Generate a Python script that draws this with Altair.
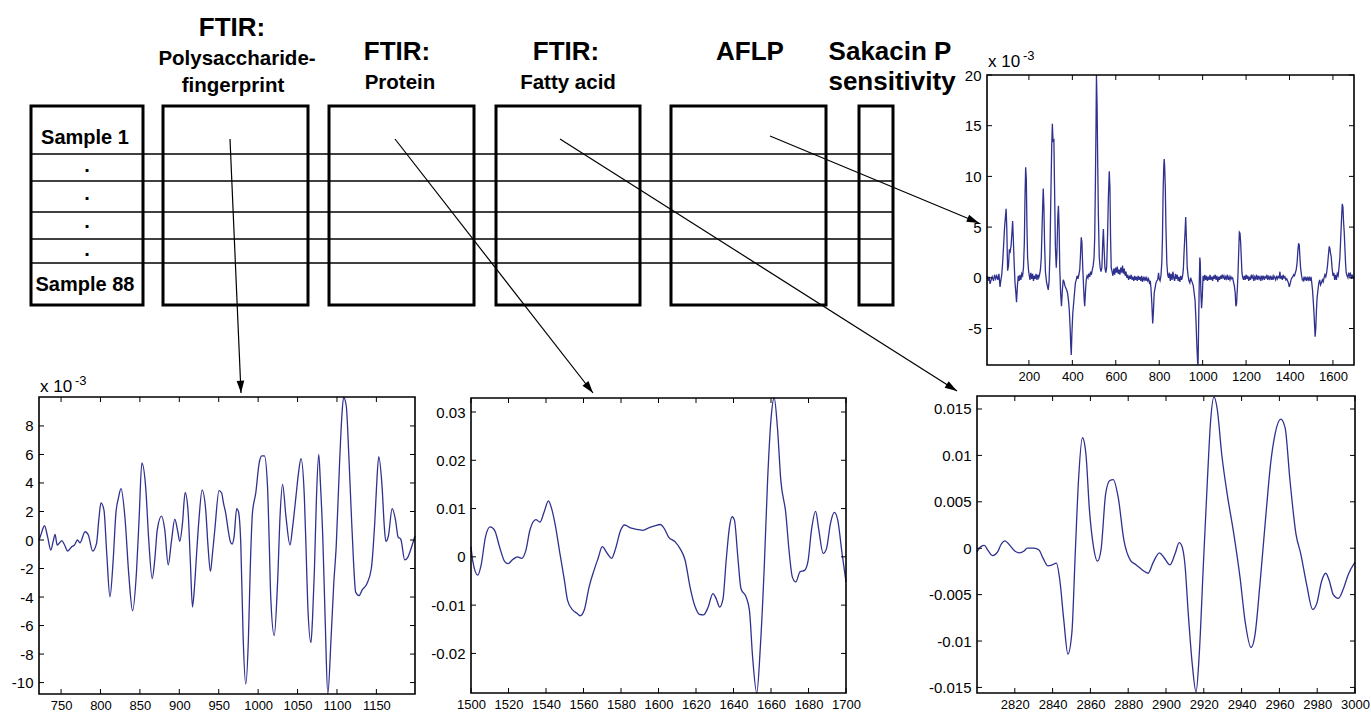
import math
import altair as alt
import pandas as pd

W, H = 1371, 712
FONT = "Liberation Sans"
LINE_COLOR = "#2f318e"

# ---------------- spectra / profiles ----------------
# FTIR polysaccharide fingerprint region (values in 1e-3)
poly_x = [722, 724, 729, 733, 737, 740, 742.4, 745, 748, 751, 754, 758.4, 763.5, 767, 770.7,
          774, 780.4, 784.6, 790, 795, 798, 800.6, 804.4, 808, 812, 816, 819.6, 823, 826, 831,
          836, 840.7, 845.8, 849, 852.5, 857.6, 861, 865.6, 869, 872, 877.4, 881.6, 885.9, 890,
          894.3, 897.7, 900.6, 904, 907.4, 911, 914, 916.7, 919, 921.7, 925, 928.9, 933.5, 936.5,
          939.5, 942, 945, 950.4, 953.7, 956, 958.8, 962, 965, 967, 969.4, 972.8, 975, 978, 981,
          984.3, 987.7, 990, 992.8, 997, 1001.3, 1004.7, 1008, 1011.9, 1014, 1016, 1020.4, 1024.6,
          1028, 1031, 1035.3, 1040.4, 1043.8, 1048, 1051, 1054.4, 1058.6, 1061, 1062.9, 1067,
          1069, 1071.4, 1074, 1076.9, 1079, 1082, 1085, 1088.4, 1092.6, 1096, 1099, 1103.3, 1106,
          1108.4, 1111.8, 1115, 1118, 1121, 1123.7, 1127.9, 1132, 1138, 1143.6, 1146, 1147.9,
          1150, 1153, 1157.2, 1160, 1162, 1165.3, 1170, 1174.3, 1177.6, 1181, 1186, 1190, 1193.4,
          1199]
poly_y = [0.0, 0.3, 1.0, 0.2, -0.7, -0.1, 0.4, -0.35, -0.2, -0.05, -0.3, -0.77, -0.47, -0.35, 0.0,
          -0.2, 0.58, 0.35, -0.77, -0.23, 1.5, 2.6, 2.1, -1.0, -3.98, -1.5, 1.9, 3.0, 3.6, 1.6,
          -2.5, -4.96, -2.1, 1.5, 5.4, 3.5, 0.2, -2.7, -1.3, 0.7, 1.68, 0.7, -1.75, -0.1,
          1.47, 0.7, -0.1, 1.17, 3.32, 2.1, -1.5, -4.7, -3.5, -1.17, 1.5, 3.5, 2.1, -0.5,
          -2.2, -1.0, 0.7, 3.46, 3.3, 2.6, 1.9, 0.7, -0.16, -0.28, 0.2, 2.2, 2.0, -0.28, -6.85,
          -10.1, -6.85, -2.0, 1.9, 3.3, 5.4, 5.9, 5.9, 3.75, 0.0, -4.0, -6.7, -3.06,
          1.9, 3.9, 1.64, -0.35, 0.94, 3.06, 4.6, 5.7, 3.06, -1.0, -4.47, -7.2,
          -5.5, -2.1, 3.0, 6.0, 4.0, 0.2, -5.5, -10.8, -6.8, -3.0, -0.5, 5.4, 8.5,
          10.0, 9.4, 6.0, 2.1, -1.5, -3.65, -3.9, -3.5, -3.06, -2.0, -0.5, 1.17,
          3.5, 5.84, 3.76, 1.0, -0.1, 0.3, 2.2, 1.4, 0.2, 0.05, -1.4, -1.2, -0.7,
          0.3]

# FTIR protein region
prot_x = [1500, 1501, 1503.6, 1505.4, 1507.7, 1510.2, 1512.6, 1515.2, 1518, 1519.7, 1522.4, 1524.8,
          1527, 1529.3, 1531.4, 1534.6, 1536.8, 1539, 1541.3, 1543, 1544.8, 1547.5, 1549.8, 1551.5,
          1554.2, 1556.5, 1558.2, 1560.4, 1563, 1565.6, 1567.8, 1570, 1572.7, 1575, 1577.1, 1579.8,
          1581.9, 1585, 1588.6, 1591.8, 1594.8, 1598, 1601, 1603, 1605.4, 1608.9, 1611.5, 1614.2,
          1616.8, 1619.5, 1621.8, 1624, 1626.4, 1629, 1630.8, 1632.6, 1634.4, 1636.1, 1637.9,
          1639.3, 1640.5, 1642.3, 1644, 1646.7, 1648.5, 1650.2, 1652.4, 1654.3, 1656.4, 1658.2,
          1660, 1661.7, 1663.5, 1665.2, 1667.9, 1669.6, 1671.4, 1673.2, 1675.5, 1677.9, 1679.7,
          1681.6, 1683.8, 1685.5, 1687.8, 1689.6, 1691.7, 1693.8, 1695.6, 1697.9, 1700]
prot_y = [0.0021, -0.001, -0.0038, -0.0017, 0.0041, 0.0062, 0.0055, 0.0021, -0.001, -0.0014, -0.0005, 0.0,
          -0.0003, 0.0014, 0.0055, 0.0077, 0.0072, 0.0093, 0.0116, 0.0100, 0.0069, 0.0005, -0.0048, -0.009,
          -0.011, -0.0117, -0.0122, -0.011, -0.0062, -0.0028, -0.0003, 0.0021, 0.0007, -0.0003, 0.0017, 0.0055,
          0.0066, 0.006, 0.0057, 0.0055, 0.006, 0.0064, 0.0067, 0.0059, 0.0041, 0.0031, 0.0017, -0.0007,
          -0.0062, -0.0103, -0.0119, -0.012, -0.0105, -0.0076, -0.0087, -0.0104, -0.0087, -0.0007, 0.0063,
          0.0083, 0.0076, 0.0, -0.0066, -0.0083, -0.0111, -0.0208, -0.0282, -0.0188, -0.0021, 0.016,
          0.0285, 0.0329, 0.0264, 0.016, 0.009, 0.0014, -0.0042, -0.0052, -0.0031, -0.0028, -0.001,
          0.0056, 0.0094, 0.0056, 0.0007, 0.0017, 0.0069, 0.0092, 0.0076, 0.0007, -0.0052]

# FTIR fatty acid region
fat_x = [2800, 2802.2, 2803.9, 2805.7, 2808.3, 2810.9, 2812.7, 2814.8, 2817, 2820, 2822.6, 2824.9,
         2826.6, 2830.1, 2832.8, 2835, 2837.5, 2839.8, 2842, 2843.8, 2845.9, 2848.1, 2850.2, 2852,
         2853.7, 2855.8, 2857.6, 2859.5, 2861.6, 2863.7, 2865.6, 2868.1, 2870.3, 2872.1, 2874.7,
         2877.7, 2881.2, 2884.3, 2887.8, 2890.5, 2893.3, 2896.5, 2898.9, 2902.1, 2904.8, 2907,
         2908.3, 2910, 2911.8, 2913.9, 2915.9, 2917.6, 2919.7, 2921.9, 2923.6, 2925.4, 2927.1,
         2929.5, 2932.4, 2935.6, 2939.2, 2941.8, 2945, 2947.1, 2949.7, 2952.9, 2955.4, 2957.7,
         2960.7, 2963, 2965.6, 2968.8, 2971.3, 2974.4, 2977.6, 2979.7, 2982.4, 2984.5, 2986.4,
         2988.5, 2991.2, 2993.8, 2996.5, 3000]
fat_y = [-0.0004, 0.0002, 0.0003, -0.0002, -0.0008, -0.0004, 0.0004, 0.0008, 0.0004, -0.0003, -0.0005, -0.0003,
         0.0, 0.0, -0.0002, -0.0011, -0.0019, -0.0018, -0.0016, -0.0034, -0.0077, -0.0114, -0.0091, -0.0005,
         0.0073, 0.0119, 0.0102, 0.0041, 0.0002, -0.0014, -0.0002, 0.0059, 0.0073, 0.0074, 0.0055,
         0.0009, -0.0013, -0.0018, -0.0024, -0.0027, -0.0015, -0.0005, -0.001, -0.0018, -0.0006, 0.0006,
         0.0003, -0.0017, -0.0071, -0.0125, -0.0155, -0.0114, -0.0021, 0.0073, 0.0137, 0.0163, 0.015,
         0.0101, 0.0058, 0.0019, -0.0032, -0.0078, -0.0107, -0.0093, -0.0039, 0.0037, 0.0092, 0.0123,
         0.0139, 0.013, 0.0073, 0.0015, -0.0006, -0.0039, -0.0066, -0.006, -0.0035, -0.0027, -0.0035,
         -0.005, -0.0054, -0.0044, -0.0028, -0.0015]

# AFLP band profile (values in 1e-3)
aflp_x = [7, 12, 17, 21, 26, 31, 37, 42, 47, 52, 57, 62, 67, 71, 75, 79, 83, 88, 95, 98, 102, 106, 110,
          114, 118, 122, 125, 128, 132, 136, 140, 143, 147, 151, 155, 159, 163, 167, 171, 175, 179, 182,
          185, 188, 191, 194, 198, 201, 205, 209, 213, 217, 221, 225, 229, 233, 237, 241, 245, 249, 253,
          257, 260, 264, 266, 269, 272, 276, 281, 285, 289, 293, 297, 301, 305, 308, 311, 315, 318, 322,
          326, 329, 333, 336, 339, 342, 346, 350, 354, 358, 362, 366, 370, 374, 378, 382, 386, 390, 393,
          395, 398, 402, 406, 410, 414, 418, 422, 426, 430, 434, 437, 441, 444, 448, 452, 455, 457, 460,
          464, 468, 472, 476, 480, 484, 488, 492, 496, 500, 503, 506, 509, 511, 514, 517, 520, 524, 528,
          532, 536, 540, 543, 546, 550, 554, 558, 562, 566, 570, 573, 576, 579, 583, 587, 591, 595, 599,
          603, 607, 611, 615, 619, 623, 627, 631, 635, 639, 643, 647, 651, 655, 659, 663, 667, 671, 675,
          679, 683, 687, 691, 695, 699, 703, 707, 711, 715, 719, 723, 727, 731, 735, 739, 743, 747, 751,
          755, 759, 762, 766, 770, 773, 777, 781, 785, 789, 793, 797, 800, 804, 808, 812, 815, 818, 821,
          823, 825, 828, 831, 835, 839, 843, 847, 851, 855, 859, 863, 867, 871, 875, 879, 883, 887, 891,
          895, 899, 903, 907, 911, 915, 919, 922, 925, 929, 933, 937, 941, 945, 949, 953, 957, 961, 965,
          969, 973, 977, 979, 981, 984, 987, 989, 992, 995, 998, 1002, 1006, 1010, 1014, 1018, 1022,
          1026, 1030, 1034, 1038, 1042, 1046, 1050, 1054, 1058, 1062, 1066, 1070, 1074, 1078, 1082,
          1086, 1090, 1094, 1098, 1102, 1106, 1110, 1114, 1118, 1122, 1126, 1130, 1134, 1138, 1142,
          1146, 1150, 1153, 1156, 1160, 1163, 1166, 1169, 1172, 1175, 1178, 1181, 1184, 1188, 1192,
          1196, 1200, 1204, 1208, 1212, 1216, 1220, 1224, 1228, 1232, 1236, 1240, 1244, 1248, 1252,
          1256, 1260, 1264, 1268, 1272, 1276, 1280, 1284, 1288, 1292, 1296, 1300, 1304, 1308, 1312,
          1316, 1320, 1324, 1328, 1332, 1336, 1340, 1344, 1348, 1352, 1356, 1359, 1363, 1367, 1371,
          1375, 1379, 1383, 1387, 1391, 1395, 1399, 1403, 1407, 1411, 1415, 1419, 1423, 1427, 1431,
          1435, 1439, 1442, 1445, 1448, 1451, 1455, 1459, 1463, 1467, 1471, 1475, 1479, 1483, 1487,
          1491, 1495, 1499, 1502, 1506, 1510, 1514, 1518, 1521, 1524, 1527, 1531, 1535, 1539, 1543,
          1547, 1551, 1555, 1559, 1563, 1567, 1571, 1575, 1579, 1583, 1586, 1589, 1592, 1596, 1600,
          1604, 1608, 1612, 1616, 1620, 1624, 1628, 1632, 1636, 1640, 1643, 1646, 1649, 1652, 1655,
          1658, 1661, 1665, 1669, 1673, 1677, 1681, 1685, 1689, 1693, 1697]
aflp_y = [0.2, -0.3, 0.1, -0.6, -0.2, 0.1, -0.3, 0.3, -0.1, 0.2, -0.2, 0.4, -0.9, -0.2, 0.3, 1.5, 3.0, 5.0,
          6.8, 5.0, 0.7, 1.2, 2.8, 2.6, 3.2, 4.5, 5.6, 4.0, 1.5, -0.5, -1.5, -2.4, -0.8, 0.2, -0.3, 0.3,
          -0.2, 0.4, 0.2, 1.0, 3.5, 8.0, 10.9, 9.8, 5.0, 2.0, 0.8, 0.3, -0.2, 0.5, -0.1, 0.4, -0.3, 0.2,
          -0.1, 0.4, -0.2, 0.3, 0.0, 0.3, 0.8, 2.0, 4.5, 7.5, 8.8, 7.0, 3.5, 0.6, -0.4, -0.8, -1.2, -0.3,
          2.5, 8.0, 13.0, 15.2, 13.5, 13.6, 9.0, 3.0, 1.0, 2.5, 6.0, 7.1, 5.0, 1.0, -1.5, -2.8, -1.2,
          -0.2, -0.4, -0.8, -1.0, -1.2, -1.5, -2.2, -3.2, -5.0, -6.8, -7.6, -5.5, -3.5, -2.5, -1.5, -0.5,
          -0.2, 0.2, -0.1, 0.3, 0.8, 2.0, 4.0, 3.5, 1.0, -1.0, -2.3, -2.8, -1.5, -0.2, 0.2, 0.0, 0.4, 0.1,
          0.6, 0.3, 0.8, 1.2, 2.0, 4.0, 9.0, 15.0, 20.0, 17.0, 11.0, 6.0, 2.0, 1.0, 0.6, 1.0, 3.5, 4.8,
          3.0, 1.0, 0.5, 1.0, 4.0, 8.0, 10.5, 9.0, 4.0, 1.0, 0.6, 0.2, 0.9, 0.3, 1.0, 0.5, 1.1, 0.4, 0.8,
          0.3, 1.0, 0.5, 1.2, 0.4, 0.9, 0.2, 0.6, 0.0, 0.3, -0.2, 0.2, -0.1, 0.3, -0.2, 0.1, -0.3, 0.2,
          -0.2, 0.1, -0.3, 0.2, -0.2, 0.1, -0.3, 0.2, -0.4, 0.0, -0.2, 0.1, -0.3, 0.0, -0.3, -0.1, -0.5,
          -0.3, -1.0, -2.5, -4.5, -3.5, -1.5, -1.0, -0.5, -0.3, -0.2, 0.5, -0.1, -0.3, 0.2, 1.5, 4.0, 8.5,
          11.0, 11.7, 11.0, 9.0, 5.0, 1.5, 0.3, 0.0, 0.5, -0.3, 0.4, -0.2, 0.6, 0.0, -0.3, 0.4, -0.1, 0.3,
          -0.3, 0.1, -0.4, 0.2, -0.2, 0.1, 0.8, 2.8, 4.5, 6.0, 4.0, 1.0, 0.2, -0.3, -0.5, 0.0, -0.3, -0.5,
          -0.8, -1.5, -2.2, -4.0, -6.5, -8.4, -8.55, -5.5, -1.0, 2.0, 1.5, -1.5, -3.0, -2.0, 0.2, -0.3,
          0.3, -0.2, 0.2, -0.3, 0.1, -0.2, 0.3, -0.2, 0.1, -0.3, 0.2, -0.1, 0.3, -0.2, 0.2, -0.4, 0.1,
          -0.2, 0.2, -0.1, 0.3, 0.0, 0.2, -0.2, 0.1, -0.1, 0.3, -0.2, 0.1, -0.2, 0.1, -0.1, 0.0, -0.4,
          -0.8, -1.5, -2.8, -2.6, -1.0, 0.5, 2.5, 4.5, 4.4, 3.5, 2.0, 0.5, 0.1, -0.2, 0.2, -0.2, 0.3,
          -0.1, 0.2, -0.3, 0.1, -0.2, 0.3, 0.0, 0.2, -0.3, 0.1, -0.1, 0.3, -0.2, 0.2, -0.1, 0.1, -0.3,
          0.2, -0.1, 0.2, -0.2, 0.1, 0.0, 0.3, -0.2, 0.1, -0.1, 0.2, -0.2, 0.1, -0.2, 0.2, 0.0, -0.2, 0.2,
          -0.1, 0.1, 0.0, 0.6, -0.1, 0.2, -0.2, 0.3, 0.0, 0.1, -0.2, -0.1, -0.3, -0.5, -0.9, -0.6, -0.2,
          0.0, 0.1, 0.3, 0.2, 0.5, 0.8, 1.5, 2.8, 3.4, 3.2, 2.0, 1.0, 0.3, -0.2, -0.3, 0.1, -0.2, 0.0,
          -0.3, 0.1, -0.2, 0.0, -0.3, 0.1, -0.4, -1.2, -2.5, -4.0, -5.8, -5.0, -3.2, -2.0, -1.2, -0.5,
          -0.2, -0.7, -0.5, -0.2, -0.4, 0.0, 0.3, 0.1, 0.5, 1.2, 2.2, 3.1, 2.9, 2.4, 2.1, 1.0, 0.2, 0.5,
          -0.2, 0.3, -0.2, 0.4, 0.2, 1.0, 2.0, 4.0, 6.0, 7.3, 7.0, 5.5, 4.5, 3.0, 1.5, 0.5, 0.2, 0.0,
          0.5, 0.2, 0.4, -0.1, 0.3, 0.0, 0.1]

# axis tick values
poly_xticks = [750, 800, 850, 900, 950, 1000, 1050, 1100, 1150]
poly_yticks = [-10, -8, -6, -4, -2, 0, 2, 4, 6, 8]
prot_xticks = [1500, 1520, 1540, 1560, 1580, 1600, 1620, 1640, 1660, 1680, 1700]
prot_yticks = [-0.02, -0.01, 0, 0.01, 0.02, 0.03]
fat_xticks = [2820, 2840, 2860, 2880, 2900, 2920, 2940, 2960, 2980, 3000]
fat_yticks = [-0.015, -0.01, -0.005, 0, 0.005, 0.01, 0.015]
aflp_xticks = [200, 400, 600, 800, 1000, 1200, 1400, 1600]
aflp_yticks = [-5, 0, 5, 10, 15, 20]

# ---------------- diagram text ----------------
header_big = ["FTIR:", "FTIR:", "FTIR:", "AFLP", "Sakacin P", "sensitivity"]
header_sub = ["Polysaccharide-", "fingerprint", "Protein", "Fatty acid"]
sample_labels = ["Sample 1", ".", ".", ".", ".", "Sample 88"]

# ---------------- layout (pixels) ----------------
big_pos = [(232, 36), (397, 60), (566, 60), (750, 60), (890, 60), (892, 90)]
sub_pos = [(237, 65), (233, 92), (400, 89), (568, 89)]
sample_pos = [(85, 144), (87, 172), (87, 200), (87, 228), (87, 256), (85, 291)]
boxes = [(31, 143), (163, 308), (329, 474), (496, 640), (671, 826), (859, 893)]
box_top, box_bottom = 106, 305
row_lines = [154, 181, 212, 239, 263]
arrows = [((230, 139), (241, 393)), ((395, 139), (593, 393)),
          ((560, 139), (957, 391)), ((770, 136), (979, 223))]

CX = alt.Scale(domain=[0, W], range=[0, W], nice=False, zero=False)
CY = alt.Scale(domain=[0, H], range=[0, H], nice=False, zero=False)


def cx(f):
    return alt.X(f, type="quantitative", scale=CX, axis=None)


def cy(f):
    return alt.Y(f, type="quantitative", scale=CY, axis=None)


layers = []

box_df = pd.DataFrame({"x0": [b[0] for b in boxes], "x1": [b[1] for b in boxes],
                       "y0": box_top, "y1": box_bottom})
layers.append(alt.Chart(box_df).mark_rect(fillOpacity=0, stroke="black", strokeWidth=3,
                                          strokeJoin="miter").encode(
    x=cx("x0"), x2="x1", y=cy("y0"), y2="y1"))

row_df = pd.DataFrame({"x0": boxes[0][0], "x1": boxes[-1][1], "y": row_lines})
layers.append(alt.Chart(row_df).mark_rule(color="black", strokeWidth=1.3).encode(
    x=cx("x0"), x2="x1", y=cy("y")))

arr_df = pd.DataFrame({
    "x0": [a[0][0] for a in arrows], "y0": [a[0][1] for a in arrows],
    "x1": [a[1][0] for a in arrows], "y1": [a[1][1] for a in arrows],
})
arr_df["ang"] = [math.degrees(math.atan2(r.x1 - r.x0, -(r.y1 - r.y0))) % 360
                 for r in arr_df.itertuples()]
layers.append(alt.Chart(arr_df).mark_rule(color="black", strokeWidth=1.2).encode(
    x=cx("x0"), y=cy("y0"), x2="x1", y2="y1"))
layers.append(alt.Chart(arr_df).mark_point(
    shape="M0,0L-0.62,2L0.62,2Z", filled=True, size=150, color="black", opacity=1).encode(
    x=cx("x1"), y=cy("y1"), angle=alt.Angle("ang:Q", scale=None)))


def text_layer(labels, pos, size, weight, align="center"):
    df = pd.DataFrame({"t": labels, "x": [p[0] for p in pos], "y": [p[1] for p in pos]})
    return alt.Chart(df).mark_text(font=FONT, fontSize=size, fontWeight=weight, align=align,
                                   baseline="alphabetic", color="black").encode(
        x=cx("x"), y=cy("y"), text="t:N")


layers.append(text_layer(header_big, big_pos, 26, "bold"))
layers.append(text_layer(header_sub, sub_pos, 20.5, "bold"))
layers.append(text_layer(sample_labels, sample_pos, 20, "bold"))
# exponent annotations for the 1e-3 scaled axes
layers.append(text_layer(["x 10", "x 10"], [(40, 392), (988, 67)], 17, "normal", "left"))
layers.append(text_layer(["-3", "-3"], [(75, 385), (1023, 60)], 13, "normal", "left"))


def panel(xs, ys, xdom, ydom, box, xticks, yticks, interp):
    left, top, right, bottom = box
    sx = alt.Scale(domain=xdom, range=[left, right], nice=False, zero=False)
    sy = alt.Scale(domain=ydom, range=[bottom, top], nice=False, zero=False)
    out = []
    df = pd.DataFrame({"x": xs, "y": ys})
    out.append(alt.Chart(df).mark_line(color=LINE_COLOR, strokeWidth=1.3, interpolate=interp).encode(
        x=alt.X("x:Q", scale=sx, axis=alt.Axis(
            orient="bottom", offset=bottom - H, values=xticks, labelExpr="'' + datum.value",
            labelFontSize=13, labelPadding=5, title=None)),
        y=alt.Y("y:Q", scale=sy, axis=alt.Axis(
            orient="left", offset=-left, values=yticks, labelExpr="'' + datum.value",
            labelFontSize=15, labelPadding=6, title=None)),
    ))
    fr = pd.DataFrame({"x0": [xdom[0]], "x1": [xdom[1]], "y0": [ydom[0]], "y1": [ydom[1]]})
    out.append(alt.Chart(fr).mark_rect(fillOpacity=0, stroke="black", strokeWidth=1.6,
                                       strokeJoin="miter").encode(
        x=alt.X("x0:Q", scale=sx, axis=None), x2="x1",
        y=alt.Y("y0:Q", scale=sy, axis=None), y2="y1"))
    tx = pd.DataFrame({"t": xticks})
    ty = pd.DataFrame({"t": yticks})
    for y_edge, inward in ((bottom, -5), (top, 5)):
        out.append(alt.Chart(tx).mark_rule(color="black", strokeWidth=1).encode(
            x=alt.X("t:Q", scale=sx, axis=None), y=alt.value(y_edge), y2=alt.value(y_edge + inward)))
    for x_edge, inward in ((left, 5), (right, -5)):
        out.append(alt.Chart(ty).mark_rule(color="black", strokeWidth=1).encode(
            y=alt.Y("t:Q", scale=sy, axis=None), x=alt.value(x_edge), x2=alt.value(x_edge + inward)))
    return out


layers += panel(poly_x, poly_y, [722, 1199], [-10.8, 10.03], (39, 397, 415, 694),
                poly_xticks, poly_yticks, "monotone")
layers += panel(prot_x, prot_y, [1500, 1700], [-0.0282, 0.0329], (471, 398, 846, 693),
                prot_xticks, prot_yticks, "monotone")
layers += panel(fat_x, fat_y, [2800, 3000], [-0.0156, 0.0164], (977, 396, 1355, 693),
                fat_xticks, fat_yticks, "monotone")
layers += panel(aflp_x, aflp_y, [7, 1697], [-8.6, 20], (987, 75, 1354, 365),
                aflp_xticks, aflp_yticks, "linear")

chart = alt.layer(*layers).resolve_scale(x="independent", y="independent").properties(
    width=W, height=H, padding=0, autosize=alt.AutoSizeParams(type="none"),
    background="white",
).configure_view(stroke=None).configure_axis(
    labelFont=FONT, labelColor="black", domain=False, ticks=False, tickSize=0, grid=False,
    labelOverlap=False, labelFlush=False,
)

chart.save("out.html", embed_options={"renderer": "svg", "actions": False})
